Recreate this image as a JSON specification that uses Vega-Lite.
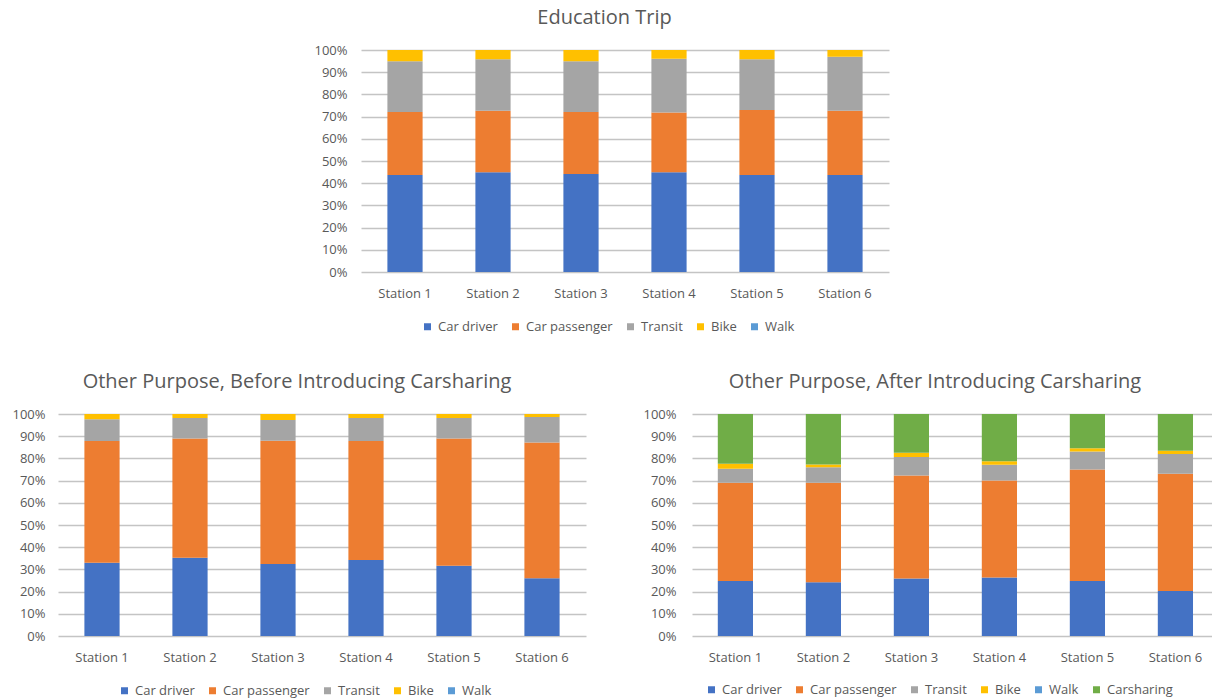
{
  "$schema": "https://vega.github.io/schema/vega-lite/v6.json",
  "background": "white",
  "padding": {"left": 0, "top": 8, "right": 0, "bottom": 0},
  "config": {
    "view": {"stroke": null},
    "font": "Open Sans",
    "axis": {
      "labelFont": "Open Sans",
      "labelFontSize": 13,
      "labelColor": "#595959",
      "domain": false,
      "ticks": false,
      "tickSize": 0,
      "title": null
    },
    "axisX": {"grid": false, "labelAngle": 0, "labelPadding": 15},
    "axisY": {"grid": true, "gridColor": "#c4c4c4", "gridWidth": 1.6, "labelFlush": false},
    "title": {
      "font": "Open Sans",
      "fontSize": 20,
      "fontWeight": "normal",
      "color": "#595959",
      "frame": "group",
      "anchor": "middle",
      "baseline": "alphabetic",
      "offset": 16
    },
    "legend": {
      "orient": "none",
      "direction": "horizontal",
      "title": null,
      "symbolType": "square",
      "symbolSize": 49,
      "symbolStrokeWidth": 0,
      "labelFont": "Open Sans",
      "labelFontSize": 13,
      "labelColor": "#595959",
      "labelOffset": 4,
      "columnPadding": 11,
      "padding": 0
    }
  },
  "datasets": {
    "education": [
      {"station": "Station 1", "mode": "Car driver", "share": 43.7},
      {"station": "Station 1", "mode": "Car passenger", "share": 28.4},
      {"station": "Station 1", "mode": "Transit", "share": 22.8},
      {"station": "Station 1", "mode": "Bike", "share": 5.1},
      {"station": "Station 1", "mode": "Walk", "share": 0},
      {"station": "Station 2", "mode": "Car driver", "share": 44.9},
      {"station": "Station 2", "mode": "Car passenger", "share": 27.7},
      {"station": "Station 2", "mode": "Transit", "share": 23.2},
      {"station": "Station 2", "mode": "Bike", "share": 4.2},
      {"station": "Station 2", "mode": "Walk", "share": 0},
      {"station": "Station 3", "mode": "Car driver", "share": 44.1},
      {"station": "Station 3", "mode": "Car passenger", "share": 28.0},
      {"station": "Station 3", "mode": "Transit", "share": 22.8},
      {"station": "Station 3", "mode": "Bike", "share": 5.1},
      {"station": "Station 3", "mode": "Walk", "share": 0},
      {"station": "Station 4", "mode": "Car driver", "share": 44.9},
      {"station": "Station 4", "mode": "Car passenger", "share": 26.9},
      {"station": "Station 4", "mode": "Transit", "share": 24.3},
      {"station": "Station 4", "mode": "Bike", "share": 3.9},
      {"station": "Station 4", "mode": "Walk", "share": 0},
      {"station": "Station 5", "mode": "Car driver", "share": 43.7},
      {"station": "Station 5", "mode": "Car passenger", "share": 29.3},
      {"station": "Station 5", "mode": "Transit", "share": 22.8},
      {"station": "Station 5", "mode": "Bike", "share": 4.2},
      {"station": "Station 5", "mode": "Walk", "share": 0},
      {"station": "Station 6", "mode": "Car driver", "share": 43.7},
      {"station": "Station 6", "mode": "Car passenger", "share": 28.9},
      {"station": "Station 6", "mode": "Transit", "share": 24.4},
      {"station": "Station 6", "mode": "Bike", "share": 3.0},
      {"station": "Station 6", "mode": "Walk", "share": 0}
    ],
    "before": [
      {"station": "Station 1", "mode": "Car driver", "share": 33.0},
      {"station": "Station 1", "mode": "Car passenger", "share": 54.8},
      {"station": "Station 1", "mode": "Transit", "share": 9.8},
      {"station": "Station 1", "mode": "Bike", "share": 2.4},
      {"station": "Station 1", "mode": "Walk", "share": 0},
      {"station": "Station 2", "mode": "Car driver", "share": 35.3},
      {"station": "Station 2", "mode": "Car passenger", "share": 53.7},
      {"station": "Station 2", "mode": "Transit", "share": 9.2},
      {"station": "Station 2", "mode": "Bike", "share": 1.8},
      {"station": "Station 2", "mode": "Walk", "share": 0},
      {"station": "Station 3", "mode": "Car driver", "share": 32.4},
      {"station": "Station 3", "mode": "Car passenger", "share": 55.6},
      {"station": "Station 3", "mode": "Transit", "share": 9.3},
      {"station": "Station 3", "mode": "Bike", "share": 2.7},
      {"station": "Station 3", "mode": "Walk", "share": 0},
      {"station": "Station 4", "mode": "Car driver", "share": 34.2},
      {"station": "Station 4", "mode": "Car passenger", "share": 53.6},
      {"station": "Station 4", "mode": "Transit", "share": 10.4},
      {"station": "Station 4", "mode": "Bike", "share": 1.8},
      {"station": "Station 4", "mode": "Walk", "share": 0},
      {"station": "Station 5", "mode": "Car driver", "share": 31.7},
      {"station": "Station 5", "mode": "Car passenger", "share": 57.3},
      {"station": "Station 5", "mode": "Transit", "share": 9.2},
      {"station": "Station 5", "mode": "Bike", "share": 1.8},
      {"station": "Station 5", "mode": "Walk", "share": 0},
      {"station": "Station 6", "mode": "Car driver", "share": 26.0},
      {"station": "Station 6", "mode": "Car passenger", "share": 61.2},
      {"station": "Station 6", "mode": "Transit", "share": 11.4},
      {"station": "Station 6", "mode": "Bike", "share": 1.4},
      {"station": "Station 6", "mode": "Walk", "share": 0}
    ],
    "after": [
      {"station": "Station 1", "mode": "Car driver", "share": 24.8},
      {"station": "Station 1", "mode": "Car passenger", "share": 44.2},
      {"station": "Station 1", "mode": "Transit", "share": 6.3},
      {"station": "Station 1", "mode": "Bike", "share": 2.3},
      {"station": "Station 1", "mode": "Walk", "share": 0},
      {"station": "Station 1", "mode": "Carsharing", "share": 22.4},
      {"station": "Station 2", "mode": "Car driver", "share": 24.2},
      {"station": "Station 2", "mode": "Car passenger", "share": 44.8},
      {"station": "Station 2", "mode": "Transit", "share": 7.0},
      {"station": "Station 2", "mode": "Bike", "share": 1.2},
      {"station": "Station 2", "mode": "Walk", "share": 0},
      {"station": "Station 2", "mode": "Carsharing", "share": 22.8},
      {"station": "Station 3", "mode": "Car driver", "share": 25.9},
      {"station": "Station 3", "mode": "Car passenger", "share": 46.4},
      {"station": "Station 3", "mode": "Transit", "share": 8.3},
      {"station": "Station 3", "mode": "Bike", "share": 1.9},
      {"station": "Station 3", "mode": "Walk", "share": 0},
      {"station": "Station 3", "mode": "Carsharing", "share": 17.5},
      {"station": "Station 4", "mode": "Car driver", "share": 26.3},
      {"station": "Station 4", "mode": "Car passenger", "share": 43.8},
      {"station": "Station 4", "mode": "Transit", "share": 7.0},
      {"station": "Station 4", "mode": "Bike", "share": 1.6},
      {"station": "Station 4", "mode": "Walk", "share": 0},
      {"station": "Station 4", "mode": "Carsharing", "share": 21.3},
      {"station": "Station 5", "mode": "Car driver", "share": 24.8},
      {"station": "Station 5", "mode": "Car passenger", "share": 50.2},
      {"station": "Station 5", "mode": "Transit", "share": 8.1},
      {"station": "Station 5", "mode": "Bike", "share": 1.5},
      {"station": "Station 5", "mode": "Walk", "share": 0},
      {"station": "Station 5", "mode": "Carsharing", "share": 15.4},
      {"station": "Station 6", "mode": "Car driver", "share": 20.3},
      {"station": "Station 6", "mode": "Car passenger", "share": 52.8},
      {"station": "Station 6", "mode": "Transit", "share": 8.9},
      {"station": "Station 6", "mode": "Bike", "share": 1.5},
      {"station": "Station 6", "mode": "Walk", "share": 0},
      {"station": "Station 6", "mode": "Carsharing", "share": 16.5}
    ]
  },
  "resolve": {"scale": {"color": "independent"}, "legend": {"color": "independent"}},
  "align": "none",
  "spacing": 38,
  "vconcat": [
    {
      "width": 831,
      "height": 222,
      "title": {"text": "Education Trip", "dx": 131},
      "data": {"name": "education"},
      "transform": [
        {"calculate": "indexof(['Car driver', 'Car passenger', 'Transit', 'Bike', 'Walk'], datum.mode)", "as": "stack_rank"}
      ],
      "mark": {"type": "bar"},
      "encoding": {
        "x": {
          "field": "station", "type": "nominal",
          "scale": {"range": [303, 831], "paddingInner": 0.6, "paddingOuter": 0.3}
        },
        "y": {
          "field": "share", "type": "quantitative", "stack": "zero",
          "scale": {"domain": [0, 100], "nice": false},
          "axis": {"values": [0, 10, 20, 30, 40, 50, 60, 70, 80, 90, 100], "labelExpr": "datum.value + '%'", "offset": -303, "minExtent": 0, "labelPadding": 14}
        },
        "order": {"field": "stack_rank", "type": "quantitative", "sort": "ascending"},
        "color": {
          "field": "mode", "type": "nominal",
          "sort": ["Car driver", "Car passenger", "Transit", "Bike", "Walk"],
          "scale": {
            "domain": ["Car driver", "Car passenger", "Transit", "Bike", "Walk"],
            "range": ["#4472c4", "#ed7d31", "#a5a5a5", "#ffc000", "#5b9bd5"]
          },
          "legend": {"legendX": 363, "legendY": 270}
        }
      }
    },
    {
      "resolve": {"scale": {"color": "independent"}, "legend": {"color": "independent"}},
      "spacing": 48,
      "hconcat": [
        {
          "width": 528,
          "height": 222,
          "title": {"text": "Other Purpose, Before Introducing Carsharing", "dx": -25},
          "data": {"name": "before"},
          "transform": [
            {"calculate": "indexof(['Car driver', 'Car passenger', 'Transit', 'Bike', 'Walk'], datum.mode)", "as": "stack_rank"}
          ],
          "mark": {"type": "bar"},
          "encoding": {
            "x": {
              "field": "station", "type": "nominal",
              "scale": {"paddingInner": 0.6, "paddingOuter": 0.3}
            },
            "y": {
              "field": "share", "type": "quantitative", "stack": "zero",
              "scale": {"domain": [0, 100], "nice": false},
              "axis": {"values": [0, 10, 20, 30, 40, 50, 60, 70, 80, 90, 100], "labelExpr": "datum.value + '%'", "minExtent": 58, "maxExtent": 58, "labelPadding": 13}
            },
            "order": {"field": "stack_rank", "type": "quantitative", "sort": "ascending"},
            "color": {
              "field": "mode", "type": "nominal",
              "sort": ["Car driver", "Car passenger", "Transit", "Bike", "Walk"],
              "scale": {
                "domain": ["Car driver", "Car passenger", "Transit", "Bike", "Walk"],
                "range": ["#4472c4", "#ed7d31", "#a5a5a5", "#ffc000", "#5b9bd5"]
              },
              "legend": {"legendX": 60, "legendY": 270}
            }
          }
        },
        {
          "width": 520,
          "height": 222,
          "title": {"text": "Other Purpose, After Introducing Carsharing", "dx": -17},
          "data": {"name": "after"},
          "transform": [
            {"calculate": "indexof(['Car driver', 'Car passenger', 'Transit', 'Bike', 'Walk', 'Carsharing'], datum.mode)", "as": "stack_rank"}
          ],
          "mark": {"type": "bar"},
          "encoding": {
            "x": {
              "field": "station", "type": "nominal",
              "scale": {"paddingInner": 0.6, "paddingOuter": 0.2545, "align": 0.576}
            },
            "y": {
              "field": "share", "type": "quantitative", "stack": "zero",
              "scale": {"domain": [0, 100], "nice": false},
              "axis": {"values": [0, 10, 20, 30, 40, 50, 60, 70, 80, 90, 100], "labelExpr": "datum.value + '%'", "minExtent": 58, "maxExtent": 58, "labelPadding": 16}
            },
            "order": {"field": "stack_rank", "type": "quantitative", "sort": "ascending"},
            "color": {
              "field": "mode", "type": "nominal",
              "sort": ["Car driver", "Car passenger", "Transit", "Bike", "Walk", "Carsharing"],
              "scale": {
                "domain": ["Car driver", "Car passenger", "Transit", "Bike", "Walk", "Carsharing"],
                "range": ["#4472c4", "#ed7d31", "#a5a5a5", "#ffc000", "#5b9bd5", "#70ad47"]
              },
              "legend": {"legendX": 13, "legendY": 269}
            }
          }
        }
      ]
    }
  ]
}
